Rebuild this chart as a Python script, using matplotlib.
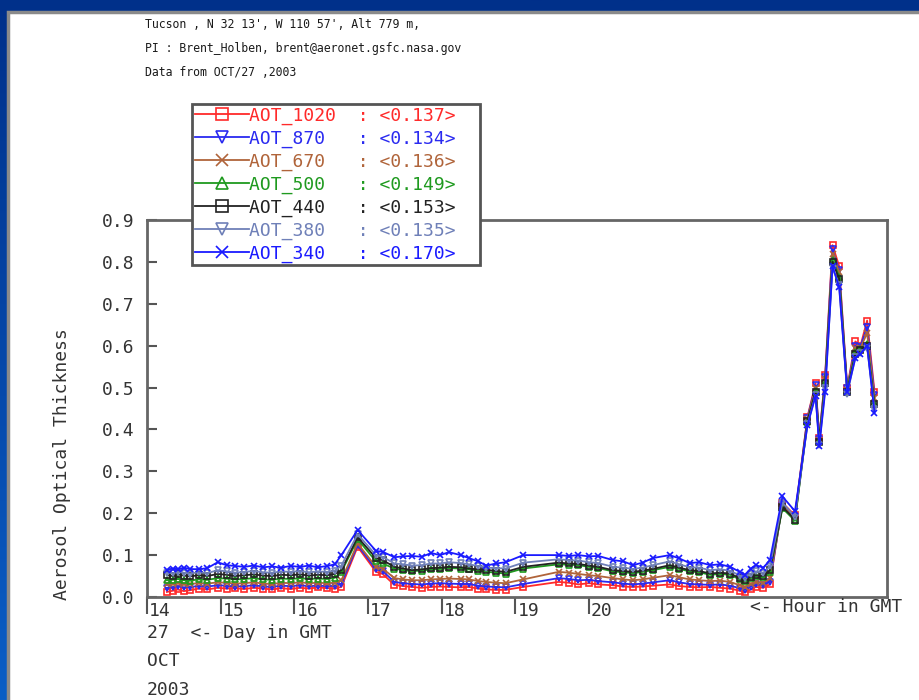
# AERONET Tucson AOT plot - Oct 27, 2003

import numpy as np
import matplotlib
matplotlib.use("Agg")
import matplotlib.pyplot as plt
from matplotlib.colors import LinearSegmentedColormap
from matplotlib.patches import Rectangle

# Data (hour in GMT)
times = [
    14.27, 14.35, 14.42, 14.50, 14.58, 14.70, 14.82, 14.96, 15.08, 15.20,
    15.32, 15.45, 15.58, 15.70, 15.82, 15.95, 16.08, 16.20, 16.32, 16.45,
    16.55, 16.64, 16.86, 17.11, 17.20, 17.36, 17.48, 17.60, 17.73, 17.86,
    17.98, 18.10, 18.26, 18.37, 18.50, 18.61, 18.74, 18.87, 19.11, 19.59,
    19.73, 19.86, 20.00, 20.13, 20.33, 20.47, 20.60, 20.73, 20.87, 21.10,
    21.23, 21.37, 21.50, 21.65, 21.78, 21.92, 22.05, 22.12, 22.20, 22.27,
    22.37, 22.46, 22.63, 22.80, 22.97, 23.08, 23.13, 23.21, 23.31, 23.40,
    23.51, 23.62, 23.69, 23.78, 23.88]

aot_1020 = [
    0.012, 0.015, 0.018, 0.014, 0.016, 0.020, 0.018, 0.022, 0.020, 0.021,
    0.019, 0.022, 0.020, 0.018, 0.021, 0.019, 0.022, 0.020, 0.023, 0.021,
    0.020, 0.024, 0.120, 0.060, 0.055, 0.029, 0.026, 0.024, 0.022, 0.024,
    0.025, 0.024, 0.023, 0.024, 0.020, 0.018, 0.017, 0.017, 0.024, 0.036,
    0.034, 0.030, 0.033, 0.030, 0.028, 0.025, 0.024, 0.025, 0.027, 0.030,
    0.026, 0.024, 0.023, 0.024, 0.022, 0.020, 0.015, 0.011, 0.018, 0.024,
    0.022, 0.030, 0.225, 0.195, 0.430, 0.510, 0.380, 0.530, 0.840, 0.790,
    0.500, 0.610, 0.600, 0.660, 0.490]

aot_870 = [
    0.022, 0.024, 0.026, 0.023, 0.024, 0.026, 0.025, 0.028, 0.027, 0.025,
    0.026, 0.028, 0.025, 0.024, 0.027, 0.026, 0.028, 0.026, 0.027, 0.026,
    0.027, 0.032, 0.124, 0.066, 0.062, 0.036, 0.033, 0.031, 0.030, 0.032,
    0.033, 0.032, 0.031, 0.031, 0.027, 0.025, 0.024, 0.023, 0.031, 0.045,
    0.043, 0.040, 0.041, 0.038, 0.035, 0.032, 0.030, 0.032, 0.035, 0.040,
    0.035, 0.031, 0.030, 0.029, 0.030, 0.027, 0.021, 0.017, 0.025, 0.030,
    0.028, 0.037, 0.220, 0.192, 0.428, 0.505, 0.378, 0.525, 0.830, 0.780,
    0.498, 0.600, 0.598, 0.645, 0.482]

aot_670 = [
    0.030, 0.031, 0.033, 0.030, 0.031, 0.033, 0.032, 0.035, 0.034, 0.032,
    0.033, 0.035, 0.032, 0.031, 0.034, 0.033, 0.035, 0.033, 0.034, 0.033,
    0.034, 0.040, 0.128, 0.072, 0.068, 0.045, 0.042, 0.040, 0.040, 0.042,
    0.043, 0.044, 0.043, 0.042, 0.038, 0.036, 0.034, 0.033, 0.042, 0.060,
    0.058, 0.055, 0.052, 0.050, 0.045, 0.042, 0.040, 0.042, 0.046, 0.052,
    0.047, 0.042, 0.040, 0.038, 0.039, 0.036, 0.028, 0.024, 0.032, 0.036,
    0.034, 0.045, 0.218, 0.190, 0.425, 0.500, 0.375, 0.520, 0.820, 0.775,
    0.495, 0.595, 0.595, 0.630, 0.475]

aot_500 = [
    0.040, 0.041, 0.043, 0.040, 0.039, 0.042, 0.041, 0.045, 0.044, 0.042,
    0.043, 0.045, 0.042, 0.041, 0.044, 0.043, 0.045, 0.043, 0.044, 0.043,
    0.046, 0.060, 0.138, 0.085, 0.080, 0.068, 0.064, 0.062, 0.063, 0.066,
    0.067, 0.069, 0.068, 0.066, 0.063, 0.060, 0.058, 0.056, 0.068, 0.078,
    0.077, 0.076, 0.072, 0.069, 0.061, 0.059, 0.057, 0.060, 0.064, 0.072,
    0.067, 0.061, 0.059, 0.053, 0.055, 0.053, 0.042, 0.038, 0.045, 0.049,
    0.047, 0.060, 0.212, 0.182, 0.418, 0.492, 0.372, 0.512, 0.805, 0.765,
    0.492, 0.585, 0.592, 0.605, 0.462]

aot_440 = [
    0.052, 0.050, 0.054, 0.051, 0.049, 0.052, 0.050, 0.055, 0.053, 0.050,
    0.052, 0.054, 0.051, 0.050, 0.053, 0.052, 0.054, 0.051, 0.053, 0.052,
    0.055, 0.064, 0.143, 0.093, 0.088, 0.072, 0.068, 0.064, 0.066, 0.069,
    0.070, 0.072, 0.071, 0.068, 0.066, 0.065, 0.062, 0.060, 0.072, 0.082,
    0.080, 0.079, 0.075, 0.072, 0.064, 0.062, 0.060, 0.063, 0.067, 0.076,
    0.070, 0.064, 0.062, 0.056, 0.058, 0.056, 0.045, 0.041, 0.048, 0.052,
    0.050, 0.064, 0.215, 0.185, 0.420, 0.490, 0.370, 0.510, 0.800, 0.760,
    0.490, 0.580, 0.590, 0.600, 0.460]

aot_380 = [
    0.058, 0.057, 0.060, 0.058, 0.056, 0.059, 0.057, 0.064, 0.061, 0.058,
    0.060, 0.062, 0.059, 0.058, 0.061, 0.060, 0.062, 0.059, 0.061, 0.060,
    0.063, 0.075, 0.150, 0.100, 0.096, 0.080, 0.078, 0.075, 0.076, 0.080,
    0.080, 0.083, 0.081, 0.078, 0.074, 0.070, 0.069, 0.068, 0.082, 0.090,
    0.088, 0.087, 0.083, 0.081, 0.072, 0.070, 0.067, 0.070, 0.076, 0.085,
    0.078, 0.071, 0.070, 0.064, 0.066, 0.063, 0.051, 0.046, 0.056, 0.061,
    0.058, 0.073, 0.225, 0.192, 0.412, 0.482, 0.362, 0.498, 0.785, 0.745,
    0.485, 0.572, 0.582, 0.595, 0.450]

aot_340 = [
    0.065, 0.068, 0.066, 0.070, 0.067, 0.066, 0.069, 0.083, 0.076, 0.074,
    0.072, 0.075, 0.071, 0.073, 0.070, 0.074, 0.072, 0.075, 0.071, 0.074,
    0.078, 0.100, 0.160, 0.110, 0.108, 0.095, 0.097, 0.098, 0.096, 0.105,
    0.100, 0.107, 0.100, 0.093, 0.085, 0.075, 0.080, 0.083, 0.100, 0.100,
    0.098, 0.100, 0.097, 0.098, 0.088, 0.085, 0.076, 0.082, 0.093, 0.100,
    0.092, 0.081, 0.083, 0.076, 0.078, 0.072, 0.060, 0.053, 0.068, 0.076,
    0.070, 0.088, 0.240, 0.205, 0.410, 0.480, 0.360, 0.490, 0.790, 0.740,
    0.490, 0.570, 0.580, 0.600, 0.440]

channels = ["AOT_1020", "AOT_870", "AOT_670", "AOT_500", "AOT_440", "AOT_380", "AOT_340"]
means = ["0.137", "0.134", "0.136", "0.149", "0.153", "0.135", "0.170"]
series = [aot_1020, aot_870, aot_670, aot_500, aot_440, aot_380, aot_340]
colors = ["#ff2a2a", "#2a2af0", "#b0643a", "#1f9a1f", "#222222", "#6f80b8", "#1a1aff"]
markers = ["s", "v", "x", "^", "s", "v", "x"]

y_ticks = [0.0, 0.1, 0.2, 0.3, 0.4, 0.5, 0.6, 0.7, 0.8, 0.9]
x_ticks = [14, 15, 16, 17, 18, 19, 20, 21]

mono = "DejaVu Sans Mono"
txt = "#333333"
W, H = 919, 700

fig = plt.figure(figsize=(W / 100, H / 100), dpi=100)

# slide background (blue gradient) and white panel
bg = fig.add_axes([0, 0, 1, 1], zorder=-10)
cmap = LinearSegmentedColormap.from_list("slide", ["#00308a", "#0a5ec6"])
bg.imshow(np.linspace(0, 1, 256).reshape(-1, 1), cmap=cmap, aspect="auto",
          extent=[0, 1, 0, 1], origin="upper")
bg.axis("off")
fig.add_artist(Rectangle((8 / W, -0.01), 1, 1 - 12 / H + 0.01, transform=fig.transFigure,
                         facecolor="white", edgecolor="#8a8a8a", lw=2.5, zorder=-5))

ax = fig.add_axes([147 / W, 1 - 597 / H, (887 - 147) / W, (597 - 220) / H])
lines = []
for name, mean, vals, c, m in zip(channels, means, series, colors, markers):
    ln, = ax.plot(times, vals, color=c, marker=m, markersize=4.5, mfc="none",
                  mew=1.2, lw=1.3, label=f"{name:<9} : <{mean}>  ")
    lines.append(ln)

ax.set_xlim(14, 24.05)
ax.set_ylim(0, 0.9)
ax.set_yticks(y_ticks)
ax.set_yticklabels([f"{v:.1f}" for v in y_ticks], family=mono, fontsize=13, color=txt)
ax.tick_params(axis="y", direction="in", length=7, width=1.5, color="#555555", pad=9)
ax.set_xticks(x_ticks)
ax.set_xticklabels([])
ax.tick_params(axis="x", direction="out", length=12, width=1.5, color="#555555")
for t in x_ticks:
    ax.text(t + 0.03, -0.012, str(t), transform=ax.get_xaxis_transform(),
            ha="left", va="top", family=mono, fontsize=13, color=txt)
for s in ax.spines.values():
    s.set_color("#666666")
    s.set_linewidth(2)

# header and annotations
head = ["Tucson , N 32 13', W 110 57', Alt 779 m,",
        "PI : Brent_Holben, brent@aeronet.gsfc.nasa.gov",
        "Data from OCT/27 ,2003"]
for i, s in enumerate(head):
    fig.text(145 / W, 1 - (25 + 23.5 * i) / H, s, family=mono, fontsize=8.3,
             color="#1a1a1a", va="center", ha="left")

fig.text(62 / W, 1 - 600 / H, "Aerosol Optical Thickness", rotation=90, family=mono,
         fontsize=13, color=txt, ha="center", va="bottom")
fig.text(750 / W, 1 - 607 / H, "<- Hour in GMT", family=mono, fontsize=13, color=txt,
         ha="left", va="center")
for i, s in enumerate(["27  <- Day in GMT", "OCT", "2003"]):
    fig.text(147 / W, 1 - (633 + 28.5 * i) / H, s, family=mono, fontsize=13, color=txt,
             ha="left", va="center")

leg = fig.legend(handles=lines, loc="upper left", bbox_to_anchor=(192 / W, 1 - 104 / H),
                 prop={"family": mono, "size": 13}, frameon=True, fancybox=False,
                 framealpha=1, edgecolor="#555555", borderpad=0.15, labelspacing=0.26,
                 handlelength=3.0, handletextpad=0.0, markerscale=2.0, borderaxespad=0)
leg.get_frame().set_linewidth(2)
for t, c in zip(leg.get_texts(), colors):
    t.set_color(c)

fig.savefig("out.png", dpi=100)
